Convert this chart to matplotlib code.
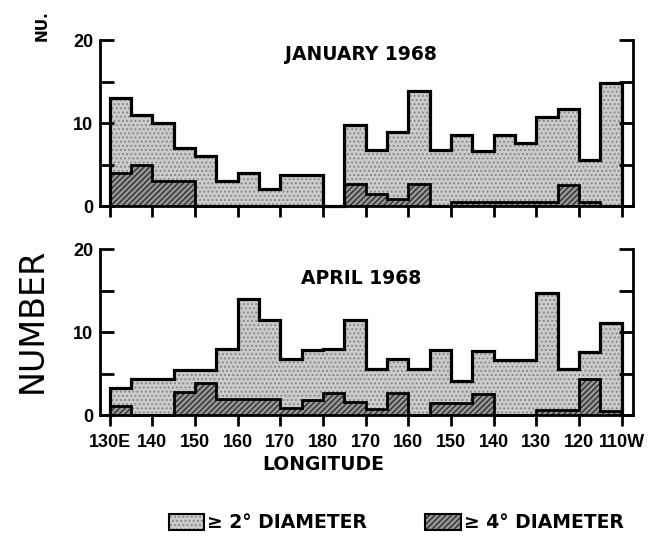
import numpy as np
import matplotlib
matplotlib.use("Agg")
import matplotlib.pyplot as plt
from matplotlib.patches import Patch
from matplotlib.legend_handler import HandlerTuple

# 5-degree longitude bins, 130E (130) eastward through 180 to 110W (250)
bin_edges = np.arange(130, 255, 5)

jan_ge2 = [13, 11, 10, 7, 6, 3, 4, 2, 3.7, 3.7, 0, 9.8,
           6.8, 8.9, 13.9, 6.8, 8.6, 6.6, 8.6, 7.6, 10.7, 11.7, 5.5, 14.8]
jan_ge4 = [4, 5, 3, 3, 0, 0, 0, 0, 0, 0, 0, 2.7,
           1.5, 0.8, 2.7, 0, 0.5, 0.5, 0.5, 0.5, 0.5, 2.5, 0.5, 0]

apr_ge2 = [3.3, 4.3, 4.3, 5.4, 5.4, 7.9, 14.0, 11.4, 6.7, 7.8, 7.9, 11.4,
           5.5, 6.7, 5.5, 7.8, 4.1, 7.7, 6.6, 6.6, 14.7, 5.5, 7.6, 11.1]
apr_ge4 = [1.1, 0, 0, 2.8, 3.8, 1.9, 1.9, 1.9, 0.8, 1.8, 2.7, 1.6,
           0.7, 2.6, 0, 1.5, 1.5, 2.5, 0, 0, 0.6, 0.6, 4.3, 0.5]

lon_ticks = np.arange(130, 251, 10)
lon_labels = ["130E", "140", "150", "160", "170", "180", "170",
              "160", "150", "140", "130", "120", "110W"]

LIGHT, LIGHT_DOT = "#cbcbcb", "#858585"
DARK, DARK_HATCH = "#959595", "#262626"
NUM_FONT = "Liberation Sans"
WORD_FONT = "DejaVu Sans"

plt.rcParams["hatch.linewidth"] = 0.9

fig = plt.figure(figsize=(6.49, 5.45), dpi=100)
ax_jan = fig.add_axes([0.154, 0.622, 0.821, 0.3046])
ax_apr = fig.add_axes([0.154, 0.2385, 0.821, 0.3046])


def draw_panel(ax, total, large, title, title_y, show_xlabels):
    left = bin_edges[:-1]
    ax.bar(left, total, width=5, align="edge", color=LIGHT, hatch="....",
           edgecolor=LIGHT_DOT, linewidth=0)
    ax.bar(left, large, width=5, align="edge", color=DARK, hatch="//////",
           edgecolor=DARK_HATCH, linewidth=0)
    ax.stairs(total, bin_edges, baseline=0, color="black", lw=2.3,
              clip_on=False)
    ax.stairs(large, bin_edges, baseline=0, color="black", lw=2.0,
              clip_on=False)

    ax.set_xlim(127.7, 252.6)
    ax.set_ylim(0, 20)
    ax.spines["top"].set_visible(False)
    for side in ("left", "right", "bottom"):
        ax.spines[side].set_linewidth(2.0)

    ax.set_yticks([0, 10, 20])
    ax.set_yticks([5, 15], minor=True)
    ax.tick_params(axis="y", which="both", direction="in", left=True,
                   right=True, length=10, width=2, pad=5)
    for lab in ax.get_yticklabels():
        lab.set_fontfamily(NUM_FONT)
        lab.set_fontweight("bold")
        lab.set_fontsize(13)

    ax.set_xticks(lon_ticks)
    ax.tick_params(axis="x", direction="out", length=8, width=2, pad=6)
    if show_xlabels:
        ax.set_xticklabels(lon_labels, fontfamily=NUM_FONT,
                           fontweight="bold", fontsize=13)
    else:
        ax.set_xticklabels([])

    ax.text(0.49, title_y, title, transform=ax.transAxes, ha="center",
            va="center", fontfamily=WORD_FONT, fontweight="bold",
            fontsize=13.5)


draw_panel(ax_jan, jan_ge2, jan_ge4, "JANUARY 1968", 0.91, False)
draw_panel(ax_apr, apr_ge2, apr_ge4, "APRIL 1968", 0.82, True)

fig.text(323 / 649, 1 - 465 / 545, "LONGITUDE", ha="center", va="center",
         fontfamily=WORD_FONT, fontweight="bold", fontsize=13.5)
fig.text(42 / 649, 1 - 26 / 545, "NU.", rotation=90, ha="center",
         va="center", fontfamily=WORD_FONT, fontweight="bold", fontsize=11)
fig.text(32 / 649, 1 - 320 / 545, "NUMBER", rotation=90, ha="center",
         va="center", fontfamily=WORD_FONT, fontsize=24)

outline = dict(fill=False, edgecolor="black", linewidth=1.5)
h_small = (Patch(facecolor=LIGHT, hatch="....", edgecolor=LIGHT_DOT, lw=0),
           Patch(**outline))
h_large = (Patch(facecolor=DARK, hatch="//////", edgecolor=DARK_HATCH, lw=0),
           Patch(**outline))
fig.legend([h_small, h_large], ["\u2265 2\u00b0 DIAMETER", "\u2265 4\u00b0 DIAMETER"],
           handler_map={tuple: HandlerTuple(ndivide=1)},
           loc="center", bbox_to_anchor=(396 / 649, 1 - 523 / 545), ncol=2,
           frameon=False, handlelength=1.9, handleheight=0.9,
           handletextpad=0.15, columnspacing=3.1,
           prop=dict(family=WORD_FONT, weight="bold", size=13.5))

fig.savefig("out.png", dpi=100)
